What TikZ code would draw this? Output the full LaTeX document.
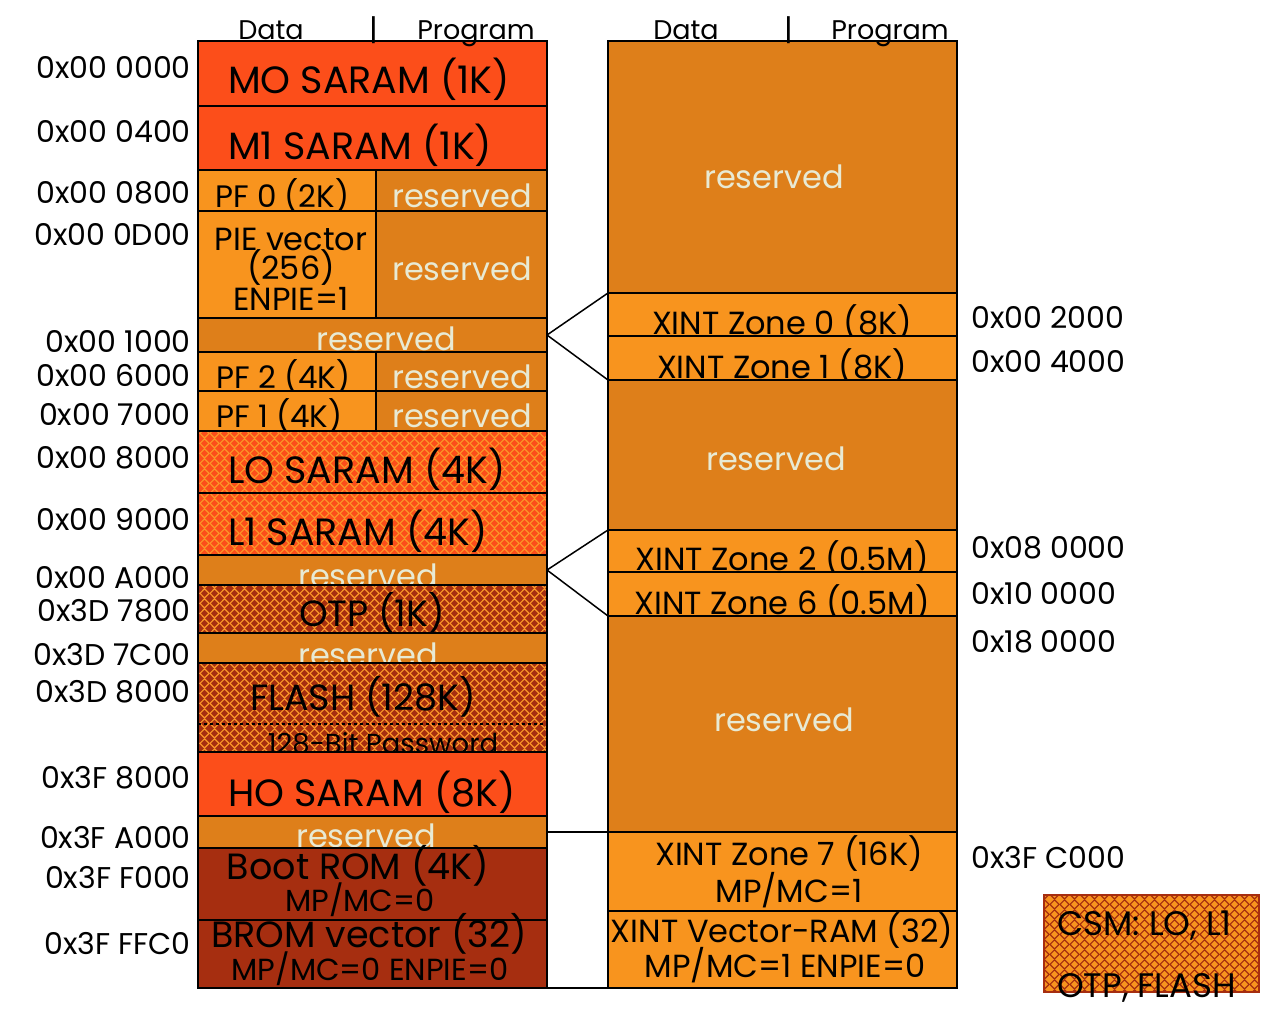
\documentclass[tikz,border=0pt]{standalone}
\usepackage{fontspec}
\setmainfont{Poppins}
\usepackage{tikz}
\usetikzlibrary{positioning,patterns.meta}
\definecolor{memred}{RGB}{252,78,26}
\definecolor{memorange}{RGB}{248,148,30}
\definecolor{memresv}{RGB}{222,127,26}
\definecolor{membrown}{RGB}{166,46,16}
\definecolor{memcream}{RGB}{232,234,212}
\definecolor{memdot}{RGB}{250,150,40}

\tikzdeclarepattern{
  name=memlattice,
  type=uncolored,
  bounding box={(0pt,0pt) and (10pt,10pt)},
  tile size={(10pt,10pt)},
  code={\draw[line width=1.3pt] (0pt,5pt) -- (5pt,0pt) -- (10pt,5pt) -- (5pt,10pt) -- cycle;}
}

\begin{document}
\begin{tikzpicture}[
  x=1pt, y=-1pt,
  blk/.style={draw=black, line width=2pt, anchor=north west, inner sep=0pt, outer sep=0pt},
  wide/.style={blk, minimum width=349pt},
  halfl/.style={blk, minimum width=178pt},
  halfr/.style={blk, minimum width=171pt},
  saram/.style={fill=memred},
  pf/.style={fill=memorange},
  resv/.style={fill=memresv},
  rom/.style={fill=membrown},
  secred/.style={preaction={fill=memred}, pattern=memlattice, pattern color=memdot},
  secbrown/.style={preaction={fill=membrown}, pattern=memlattice, pattern color=memdot},
  big/.style={inner sep=0pt, anchor=base, font=\fontsize{38}{42}\selectfont},
  bigr/.style={inner sep=0pt, anchor=base, font=\fontsize{36.5}{40}\selectfont},
  mid/.style={inner sep=0pt, anchor=base, font=\fontsize{32}{36}\selectfont},
  pft/.style={inner sep=0pt, anchor=base west, font=\fontsize{31}{35}\selectfont},
  sml/.style={inner sep=0pt, anchor=base, font=\fontsize{30.5}{34}\selectfont},
  rtxt/.style={mid, text=memcream},
  addr/.style={inner sep=0pt, anchor=base east, font=\fontsize{30}{34}\selectfont},
  addrr/.style={addr, anchor=base west},
  hdr/.style={inner sep=0pt, anchor=base, font=\fontsize{27}{30}\selectfont},
  csmt/.style={inner sep=0pt, anchor=base west, font=\fontsize{34}{38}\selectfont},
  fan/.style={line width=1.5pt}
]
\useasboundingbox (0,0) rectangle (1268,1028);

% gap box between the maps
\node[blk, fill=white, minimum width=61pt, minimum height=156pt] (gap) at (547,832) {};

% Left map
\node[wide, saram, minimum height=65pt] (m0) at (198,41) {};
\node[big, anchor=base west] (m0t) at (228,93) {MO SARAM (1K)};
\node[wide, saram, minimum height=64pt] (m1) at (198,106) {};
\node[big, anchor=base west] (m1t) at (228,159) {M1 SARAM (1K)};
\node[halfl, pf, minimum height=41pt] (pf0) at (198,170) {};
\node[pft] (pf0t) at (215,207) {PF 0 (2K)};
\node[halfr, resv, minimum height=41pt] (res0) at (376,170) {};
\node[rtxt] (res0t) at (462,207) {reserved};
\node[halfl, pf, minimum height=107pt] (pie) at (198,211) {};
\node[mid] (piet1) at (291,250) {PIE vector};
\node[mid] (piet2) at (291,279) {(256)};
\node[mid] (piet3) at (291,310) {ENPIE=1};
\node[halfr, resv, minimum height=107pt] (res1) at (376,211) {};
\node[rtxt] (res1t) at (462,280) {reserved};
\node[wide, resv, minimum height=34pt] (res2) at (198,318) {};
\node[rtxt] (res2t) at (386,350) {reserved};
\node[halfl, pf, minimum height=39pt] (pf2) at (198,352) {};
\node[pft] (pf2t) at (216,388) {PF 2 (4K)};
\node[halfr, resv, minimum height=39pt] (res3) at (376,352) {};
\node[rtxt] (res3t) at (462,388) {reserved};
\node[halfl, pf, minimum height=40pt] (pf1) at (198,391) {};
\node[pft] (pf1t) at (216,427) {PF 1 (4K)};
\node[halfr, resv, minimum height=40pt] (res4) at (376,391) {};
\node[rtxt] (res4t) at (462,427) {reserved};
\node[wide, secred, minimum height=62pt] (l0) at (198,431) {};
\node[big, anchor=base west] (l0t) at (228,483) {LO SARAM (4K)};
\node[wide, secred, minimum height=62pt] (l1) at (198,493) {};
\node[big, anchor=base west] (l1t) at (228,545) {L1 SARAM (4K)};
\node[wide, resv, minimum height=30pt] (res5) at (198,555) {};
\node[rtxt] (res5t) at (368,587) {reserved};
\node[wide, secbrown, minimum height=48pt] (otp) at (198,585) {};
\node[bigr] (otpt) at (372,626) {OTP (1K)};
\node[wide, resv, minimum height=30pt] (res6) at (198,633) {};
\node[rtxt] (res6t) at (368,666) {reserved};
\node[wide, secbrown, minimum height=89pt] (flash) at (198,663) {};
\node[bigr] (flasht) at (363,710) {FLASH (128K)};
\draw[dashed, line width=1.5pt] (flash.west |- 0,724) -- (flash.east |- 0,724);
\node[inner sep=0pt, anchor=base, font=\fontsize{27.5}{30}\selectfont] (pwdt) at (383,753) {128-Bit Password};
\node[wide, saram, minimum height=64pt] (h0) at (198,752) {};
\node[big, anchor=base west] (h0t) at (228,806) {HO SARAM (8K)};
\node[wide, resv, minimum height=32pt] (res7) at (198,816) {};
\node[rtxt] (res7t) at (366,847) {reserved};
\node[wide, rom, minimum height=72pt] (boot) at (198,848) {};
\node[bigr] (boott1) at (358,879) {Boot ROM (4K)};
\node[sml] (boott2) at (360,911) {MP/MC=0};
\node[wide, rom, minimum height=68pt] (brom) at (198,920) {};
\node[bigr] (bromt1) at (369,947) {BROM vector (32)};
\node[sml] (bromt2) at (370,980) {MP/MC=0 ENPIE=0};

% Right map
\node[wide, resv, minimum height=252pt] (rr0) at (608,41) {};
\node[rtxt] (rr0t) at (774,188) {reserved};
\node[wide, pf, minimum height=43pt] (xz0) at (608,293) {};
\node[mid] (xz0t) at (782,334) {XINT Zone 0 (8K)};
\node[wide, pf, minimum height=44pt] (xz1) at (608,336) {};
\node[mid] (xz1t) at (782,378) {XINT Zone 1 (8K)};
\node[wide, resv, minimum height=150pt] (rr1) at (608,380) {};
\node[rtxt] (rr1t) at (776,470) {reserved};
\node[wide, pf, minimum height=42pt] (xz2) at (608,530) {};
\node[mid] (xz2t) at (782,570) {XINT Zone 2 (0.5M)};
\node[wide, pf, minimum height=44pt] (xz6) at (608,572) {};
\node[mid] (xz6t) at (782,614) {XINT Zone 6 (0.5M)};
\node[wide, resv, minimum height=216pt] (rr2) at (608,616) {};
\node[rtxt] (rr2t) at (784,731) {reserved};
\node[wide, pf, minimum height=79pt] (xz7) at (608,832) {};
\node[mid] (xz7t1) at (789,865) {XINT Zone 7 (16K)};
\node[mid] (xz7t2) at (789,902) {MP/MC=1};
\node[wide, pf, minimum height=77pt] (xvr) at (608,911) {};
\node[mid] (xvrt1) at (782,942) {XINT Vector-RAM (32)};
\node[mid] (xvrt2) at (785,977) {MP/MC=1 ENPIE=0};

% Fan-out lines
\draw[fan] (res2.east) -- (xz0.north west);
\draw[fan] (res2.east) -- (xz1.south west);
\draw[fan] (res5.east) -- (xz2.north west);
\draw[fan] (res5.east) -- (xz6.south west);

% Headers
\node[hdr] (dl) at (271,39) {Data};
\node[hdr, font=\fontsize{30}{32}\selectfont] (bl) at (374,40) {|};
\node[hdr] (pl) at (476,39) {Program};
\node[hdr] (dr) at (686,39) {Data};
\node[hdr, font=\fontsize{30}{32}\selectfont] (br) at (789,40) {|};
\node[hdr] (pr) at (890,39) {Program};

% Addresses
\node[addr] (a0) at (191,78) {0x00 0000};
\node[addr] (a1) at (191,142) {0x00 0400};
\node[addr] (a2) at (191,203) {0x00 0800};
\node[addr] (a3) at (191,245) {0x00 0D00};
\node[addr] (a4) at (191,352) {0x00 1000};
\node[addr] (a5) at (191,386) {0x00 6000};
\node[addr] (a6) at (191,425) {0x00 7000};
\node[addr] (a7) at (191,468) {0x00 8000};
\node[addr] (a8) at (191,530) {0x00 9000};
\node[addr] (a9) at (191,588) {0x00 A000};
\node[addr] (a10) at (191,621) {0x3D 7800};
\node[addr] (a11) at (191,665) {0x3D 7C00};
\node[addr] (a12) at (191,702) {0x3D 8000};
\node[addr] (a13) at (191,788) {0x3F 8000};
\node[addr] (a14) at (191,848) {0x3F A000};
\node[addr] (a15) at (191,888) {0x3F F000};
\node[addr] (a16) at (191,954) {0x3F FFC0};
\node[addrr] (b0) at (971,328) {0x00 2000};
\node[addrr] (b1) at (971,372) {0x00 4000};
\node[addrr] (b2) at (971,558) {0x08 0000};
\node[addrr] (b3) at (971,604) {0x10 0000};
\node[addrr] (b4) at (971,652) {0x18 0000};
\node[addrr] (b5) at (971,868) {0x3F C000};

% CSM legend
\node[blk, draw=membrown, preaction={fill=memorange}, pattern=memlattice,
  pattern color=membrown, minimum width=215pt, minimum height=97pt] (csm) at (1044,895) {};
\node[csmt] (csmt1) at (1057,935) {CSM: LO, L1};
\node[csmt] (csmt2) at (1057,997) {OTP, FLASH};

\end{tikzpicture}
\end{document}
